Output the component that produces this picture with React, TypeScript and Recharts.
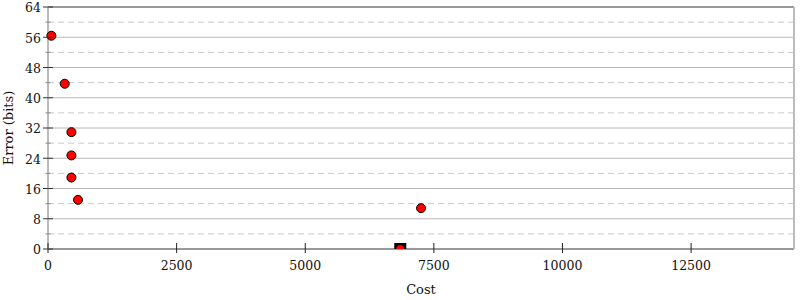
import React from 'react';
import { ScatterChart, Scatter, XAxis, YAxis, ReferenceLine, Label } from 'recharts';

const costs = [66, 325, 455, 455, 455, 583, 7251, 6847];
const errors = [56.4, 43.7, 30.9, 24.75, 18.9, 13.0, 10.8, 0];
const bestCost = [6847];
const bestError = [0];
const xTicks = [0, 2500, 5000, 7500, 10000, 12500];
const yTicks = [0, 4, 8, 12, 16, 20, 24, 28, 32, 36, 40, 44, 48, 52, 56, 60, 64];
const yMajor = [8, 16, 24, 32, 40, 48, 56];
const yMinor = [4, 12, 20, 28, 36, 44, 52, 60];

const points = costs.map((c, i) => ({ cost: c, error: errors[i] }));
const best = bestCost.map((c, i) => ({ cost: c, error: bestError[i] }));

const FONT = "'DejaVu Serif', serif";

const LeftTick = (props: any) => {
  const { x, y, payload } = props;
  const v = payload.value;
  const major = v % 8 === 0;
  const h = major ? 5 : 2.5;
  return (
    <g>
      <line x1={x - h} x2={x + h} y1={y} y2={y} stroke={major ? '#333' : '#888'} strokeWidth={1} />
      {major && (
        <text x={x - 7} y={y} dy="0.42em" textAnchor="end" fontFamily={FONT} fontSize={12.5} fill="#111">
          {v}
        </text>
      )}
    </g>
  );
};

const RightTick = (props: any) => {
  const { x, y, payload } = props;
  const v = payload.value;
  const major = v % 8 === 0;
  const h = major ? 5.3 : 2.5;
  return <line x1={x - h} x2={x + h} y1={y} y2={y} stroke={major ? '#333' : '#888'} strokeWidth={1} />;
};

const BottomTick = (props: any) => {
  const { x, y, payload } = props;
  return (
    <g>
      <line x1={x} x2={x} y1={y - 6} y2={y + 4} stroke="#222" strokeWidth={1} />
      <text x={x} y={y + 20.5} textAnchor="middle" fontFamily={FONT} fontSize={12.5} fill="#111">
        {payload.value}
      </text>
    </g>
  );
};

const Dot = (props: any) => {
  const { cx, cy } = props;
  return <circle cx={cx} cy={cy} r={4.5} fill="#ff0000" stroke="#000" strokeWidth={1} />;
};

const Square = (props: any) => {
  const { cx, cy } = props;
  return <rect x={cx - 6} y={cy - 6} width={12} height={12} fill="#000" />;
};

export default function App() {
  return (
    <div style={{ position: 'absolute', left: 0, top: 0 }}>
      <ScatterChart width={800} height={300} margin={{ top: 7, right: 0, bottom: 0, left: 0 }}>
        <XAxis
          type="number"
          dataKey="cost"
          domain={[0, 14500]}
          ticks={xTicks}
          interval={0}
          height={51}
          tickSize={0}
          tickMargin={0}
          tickLine={false}
          tick={<BottomTick />}
          axisLine={{ stroke: '#999', strokeWidth: 2 }}
        >
          <Label
            content={(p: any) => {
              const vb = p.viewBox;
              return (
                <text x={vb.x + vb.width / 2} y={vb.y + 45} textAnchor="middle" fontFamily={FONT} fontSize={13} fill="#111">
                  Cost
                </text>
              );
            }}
          />
        </XAxis>
        <YAxis
          type="number"
          dataKey="error"
          domain={[0, 64]}
          ticks={yTicks}
          interval={0}
          width={48}
          allowDataOverflow
          tickSize={0}
          tickMargin={0}
          tickLine={false}
          tick={<LeftTick />}
          axisLine={{ stroke: '#bbb', strokeWidth: 2 }}
        >
          <Label
            content={(p: any) => {
              const vb = p.viewBox;
              const cy = vb.y + vb.height / 2;
              return (
                <text x={13} y={cy} transform={`rotate(-90, 13, ${cy})`} textAnchor="middle" fontFamily={FONT} fontSize={13} fill="#111">
                  Error (bits)
                </text>
              );
            }}
          />
        </YAxis>
        <YAxis
          yAxisId="right"
          orientation="right"
          type="number"
          domain={[0, 64]}
          ticks={yTicks}
          interval={0}
          width={6}
          tickSize={0}
          tickMargin={0}
          tickLine={false}
          tick={<RightTick />}
          axisLine={{ stroke: '#bbb', strokeWidth: 2 }}
        />
        {yMinor.map((v) => (
          <ReferenceLine key={'n' + v} y={v} stroke="#c8c8c8" strokeWidth={1} strokeDasharray="6 4" />
        ))}
        {yMajor.map((v) => (
          <ReferenceLine key={'j' + v} y={v} stroke="#b8b8b8" strokeWidth={1} />
        ))}
        <ReferenceLine y={64} stroke="#999" strokeWidth={2} />
        <Scatter data={best} shape={<Square />} isAnimationActive={false} />
        <Scatter data={points} shape={<Dot />} isAnimationActive={false} />
      </ScatterChart>
    </div>
  );
}
